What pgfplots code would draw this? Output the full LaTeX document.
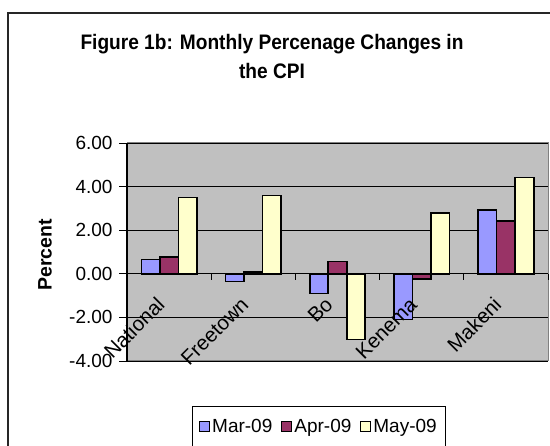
\documentclass[border=0pt]{standalone}
\usepackage{pgfplots}
\pgfplotsset{compat=1.18}
\usepackage{fontspec}
\setmainfont{Liberation Sans}
\newfontfamily\condfont{Liberation Sans}[FakeStretch=0.91]
\definecolor{bgc}{RGB}{192,192,192}
\definecolor{marc}{RGB}{153,153,255}
\definecolor{aprc}{RGB}{153,51,102}
\definecolor{mayc}{RGB}{255,255,204}
\tikzset{catlab/.style={font=\fontsize{20.5bp}{22bp}\selectfont, xshift=-6bp, yshift=-25bp, rotate=45, anchor=east}}
\begin{document}
\begin{tikzpicture}[x=1bp,y=1bp]
\useasboundingbox (0,0) rectangle (550,446);
\draw[line width=1.5bp, black!85] (8,-5) -- (8,433) -- (560,433);
\node[font=\condfont\fontsize{21bp}{29bp}\selectfont\bfseries, align=center] at (272,389) {Figure 1b: Monthly Percenage Changes in\\the CPI};
\node[font=\fontsize{19.5bp}{22bp}\selectfont\bfseries, rotate=90] at (45,191) {Percent};
\begin{axis}[
  at={(127bp,85bp)}, anchor=south west,
  scale only axis, width=421bp, height=218bp,
  xmin=-0.5, xmax=4.5, ymin=-4, ymax=6,
  ybar=0pt, bar width=0.22,
  axis background/.style={fill=bgc},
  axis line style={draw=gray, line width=1bp},
  ymajorgrids, grid style={black, line width=0.8bp},
  ytick={-4,-2,0,2,4,6},
  yticklabels={-4.00,-2.00,0.00,2.00,4.00,6.00},
  ytick pos=left, tick align=outside, major tick length=8bp,
  ytick style={black, line width=0.8bp},
  yticklabel style={font=\fontsize{19bp}{20bp}\selectfont, xshift=-3bp},
  xtick=\empty,
  clip=false,
  legend columns=3,
  legend style={at={(0.456,-0.300)}, anchor=center, draw=black, line width=0.8bp,
    font=\fontsize{19bp}{20bp}\selectfont, inner xsep=6bp, inner ysep=10bp,
    nodes={inner sep=2.5bp},
    /tikz/every even column/.append style={column sep=6bp}},
  legend image code/.code={\draw[#1, line width=1bp] (0bp,-5bp) rectangle (10bp,5bp);},
]
\addplot[fill=marc, draw=black, line width=1.6bp] coordinates {(0,0.66) (1,-0.36) (2,-0.91) (3,-2.09) (4,2.94)};
\addplot[fill=aprc, draw=black, line width=1.6bp] coordinates {(0,0.77) (1,0.08) (2,0.57) (3,-0.24) (4,2.42)};
\addplot[fill=mayc, draw=black, line width=1.6bp] coordinates {(0,3.50) (1,3.59) (2,-3.02) (3,2.78) (4,4.41)};
\legend{Mar-09,Apr-09,May-09}
\draw[black, line width=1.2bp] (rel axis cs:0,0) -- (rel axis cs:0,1);
\pgfplotsinvokeforeach{0.5,1.5,2.5,3.5,4.5}{\draw[black, line width=0.8bp] (axis cs:#1,0) -- ++(0pt,-6bp);}
\node[catlab] at (axis cs:0,0) {National};
\node[catlab] at (axis cs:1,0) {Freetown};
\node[catlab] at (axis cs:2,0) {Bo};
\node[catlab] at (axis cs:3,0) {Kenema};
\node[catlab] at (axis cs:4,0) {Makeni};
\end{axis}
\end{tikzpicture}
\end{document}
